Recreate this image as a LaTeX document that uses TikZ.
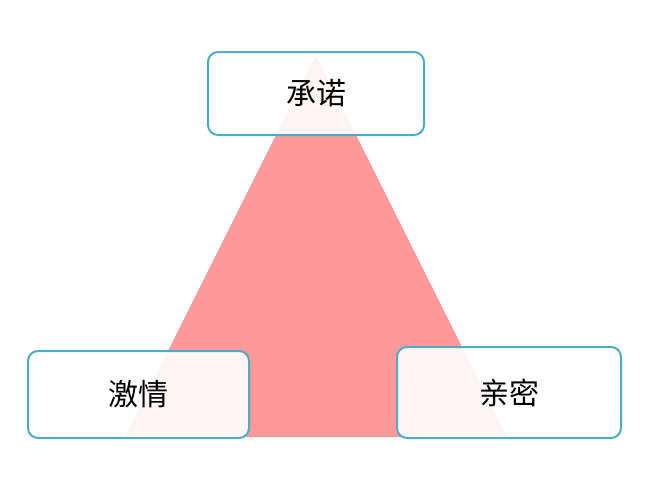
\documentclass[tikz,border=0pt]{standalone}
\usepackage{fontspec}
\newfontfamily\cjk{Noto Sans CJK SC}
\definecolor{tri}{HTML}{FF9999}
\definecolor{bd}{HTML}{4BACC6}
\begin{document}
\begin{tikzpicture}[x=1pt,y=-1pt,
  lbl/.style={draw=bd,line width=2pt,rounded corners=10pt,fill=white,fill opacity=0.9,text opacity=1,font=\cjk\fontsize{30}{36}\selectfont}]
\useasboundingbox (0,0) rectangle (654,490);
\fill[tri] (316,55) coordinate (t) -- (125,437) coordinate (l) -- (507,437) coordinate (r) -- cycle;
\node[lbl,minimum width=216pt,minimum height=83pt] (c) at (316,93.5) {承诺};
\node[lbl,minimum width=221pt,minimum height=87pt] (p) at (138.5,394.5) {激情};
\node[lbl,minimum width=224pt,minimum height=91pt] (i) at (509,392.5) {亲密};
\end{tikzpicture}
\end{document}
